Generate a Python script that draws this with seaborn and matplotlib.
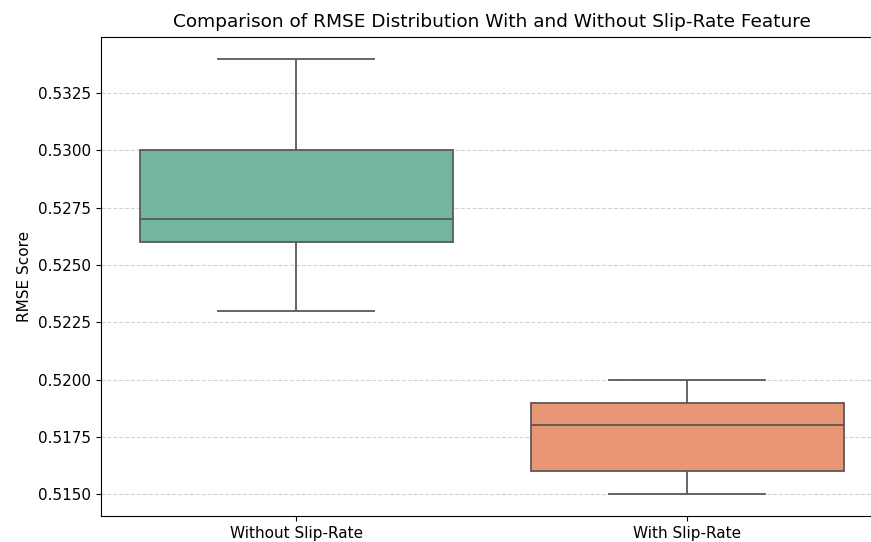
import matplotlib
matplotlib.use("Agg")
import matplotlib.pyplot as plt
import seaborn as sns
import pandas as pd

# RMSE scores from repeated runs, with and without the slip-rate feature
groups = ["Without Slip-Rate", "With Slip-Rate"]
rmse_without = [0.523, 0.526, 0.527, 0.530, 0.534]
rmse_with = [0.515, 0.516, 0.518, 0.519, 0.520]

df = pd.DataFrame({
    "Model": [groups[0]] * len(rmse_without) + [groups[1]] * len(rmse_with),
    "RMSE": rmse_without + rmse_with,
})

fig = plt.figure(figsize=(8.71, 5.42), dpi=100)
ax = fig.add_axes([0.1155, 0.048, 0.898, 0.884])

sns.boxplot(data=df, x="Model", y="RMSE", hue="Model", palette="Set2",
            legend=False, linewidth=1.3, ax=ax)

ax.set_title("Comparison of RMSE Distribution With and Without Slip-Rate Feature",
             fontsize=13.3, pad=7)
ax.set_xlabel("")
ax.set_ylabel("RMSE Score", fontsize=11)
ax.tick_params(axis="both", labelsize=11)
ax.yaxis.grid(True, linestyle="--", alpha=0.55)
ax.set_axisbelow(True)

fig.savefig("out.png", dpi=100)
